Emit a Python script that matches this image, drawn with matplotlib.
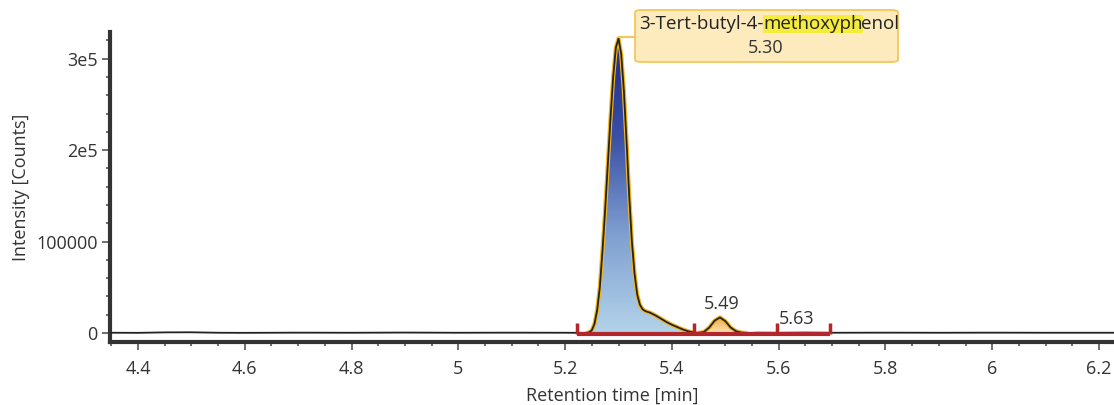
import numpy as np
import matplotlib
matplotlib.use("Agg")
import matplotlib.pyplot as plt
from matplotlib.colors import LinearSegmentedColormap
from matplotlib.patches import FancyBboxPatch, Polygon

plt.rcParams['font.family'] = ['Open Sans', 'DejaVu Sans']

# chromatogram trace (retention time [min], intensity [counts])
time = [4.35, 4.40, 4.45, 4.50, 4.55, 4.60, 4.70, 4.80, 4.90, 5.00, 5.10, 5.20, 5.23,
        5.240, 5.245, 5.250, 5.255, 5.260, 5.265, 5.270, 5.275, 5.280, 5.285, 5.290,
        5.295, 5.300, 5.305, 5.310, 5.315, 5.320, 5.325, 5.330, 5.335, 5.340, 5.345,
        5.350, 5.360, 5.370, 5.380, 5.390, 5.400, 5.410, 5.420, 5.430, 5.440, 5.450,
        5.460, 5.470, 5.480, 5.490, 5.500, 5.510, 5.520, 5.530, 5.540,
        5.56, 5.60, 5.65, 5.70, 5.80, 5.90, 6.00, 6.10, 6.23]
intensity = [300, 200, 700, 800, 300, 200, 400, 300, 500, 300, 400, 300, 200,
             0, 800, 3000, 10000, 25000, 50000, 90000, 135000, 185000, 235000, 280000,
             312000, 322000, 305000, 265000, 210000, 150000, 100000, 65000, 42000, 31000, 26000,
             24000, 22000, 19000, 15500, 12000, 9000, 6500, 4000, 2000, 700, 200,
             1200, 6000, 13500, 17000, 13000, 6000, 2000, 500, 0,
             400, 300, 500, 300, 400, 300, 400, 300, 300]

# integrated peaks
peak_rt = [5.30, 5.49, 5.63]
peak_start = [5.222, 5.442, 5.597]
peak_end = [5.442, 5.597, 5.696]
name_parts = ["3-Tert-butyl-4-", "methoxyph", "enol"]

t = np.array(time)
y = np.array(intensity)
fs = 13

fig = plt.figure(figsize=(11.14, 4.05), dpi=100)
ax = fig.add_axes([0.0987, 0.1556, 0.9013, 0.765])
ax.set_xlim(4.3475, 6.228)
ax.set_ylim(-9800, 329000)

# gradient fills of the two visible peaks
def grad_fill(t0, t1, ymax, colors):
    m = (t >= t0) & (t <= t1)
    xs = t[m]
    ys = y[m]
    verts = [(xs[0], 0)] + list(zip(xs, ys)) + [(xs[-1], 0)]
    poly = Polygon(verts, closed=True, fc='none', ec='none')
    ax.add_patch(poly)
    cmap = LinearSegmentedColormap.from_list('g', colors)
    grad = np.linspace(0, 1, 256).reshape(-1, 1)
    im = ax.imshow(grad, cmap=cmap, origin='lower', aspect='auto',
                   extent=[xs[0], xs[-1], 0, ymax], zorder=2)
    im.set_clip_path(poly)
    ax.plot(xs, ys, color='#f2b61e', lw=3.0, zorder=3, solid_capstyle='round')

grad_fill(5.24, 5.445, 322000, ['#b3d3ea', '#7f9fd0', '#3a4fa6', '#1d2a86'])
grad_fill(5.445, 5.54, 17000, ['#fde2b4', '#f2a848'])

ax.plot(t, y, color='#222222', lw=1.3, zorder=4)

# integration baselines
red = '#b3262a'
ax.plot([peak_start[0], peak_end[-1]], [-1500, -1500], color=red, lw=3, zorder=5,
        solid_capstyle='butt')
for xv in peak_start + [peak_end[-1]]:
    ax.plot([xv, xv], [-1500, 11000], color=red, lw=2.5, zorder=5, solid_capstyle='butt')

ax.text(peak_rt[1] + 0.004, 32000, "%.2f" % peak_rt[1], ha='center', va='center',
        fontsize=fs, color='#333333')
ax.text(peak_rt[2] + 0.003, 15500, "%.2f" % peak_rt[2], ha='center', va='center',
        fontsize=fs, color='#333333')

# label box for main peak
ax.plot([5.30, 5.332], [323500, 323500], color='#f5c65a', lw=1.5, zorder=6, clip_on=False)
box = FancyBboxPatch((635 / 1114, 1 - 62 / 405), 263 / 1114, 52 / 405,
                     boxstyle='round,pad=0,rounding_size=0.006', transform=fig.transFigure,
                     fc='#fdebbd', ec='#f5c65a', lw=1.3, zorder=6, clip_on=False)
ax.add_patch(box)
bfs = 13.5
t1 = ax.text(639 / 1114, 1 - 24 / 405, name_parts[0], ha='left', va='center',
             transform=fig.transFigure, fontsize=bfs, color='#222222', zorder=7)
t2 = ax.annotate(name_parts[1], xy=(1, 0), xycoords=t1, ha='left', va='bottom',
                 fontsize=bfs, color='#222222', zorder=7, annotation_clip=False,
                 bbox=dict(boxstyle='square,pad=0', fc='#f6ec3c', ec='none'))
t3 = ax.annotate(name_parts[2], xy=(1, 0), xycoords=t2, xytext=(-1.5, 0),
                 textcoords='offset points', ha='left', va='bottom',
                 fontsize=bfs, color='#222222', zorder=7, annotation_clip=False)
ax.text(766 / 1114, 1 - 48 / 405, "%.2f" % peak_rt[0], ha='center', va='center',
        transform=fig.transFigure, fontsize=fs, color='#333333', zorder=7)

# axes styling
for s in ['top', 'right']:
    ax.spines[s].set_visible(False)
for s in ['left', 'bottom']:
    ax.spines[s].set_linewidth(3)
    ax.spines[s].set_color('#333333')
ax.set_xticks([4.4, 4.6, 4.8, 5.0, 5.2, 5.4, 5.6, 5.8, 6.0, 6.2])
ax.set_xticklabels(['4.4', '4.6', '4.8', '5', '5.2', '5.4', '5.6', '5.8', '6', '6.2'])
ax.set_xticks(np.arange(4.35, 6.23, 0.05), minor=True)
ax.set_yticks([0, 100000, 200000, 300000])
ax.set_yticklabels(['0', '100000', '2e5', '3e5'])
ax.set_yticks(np.arange(0, 329000, 20000), minor=True)
ax.tick_params(which='major', length=6, width=1.2, color='#555555', labelsize=fs,
               labelcolor='#333333', pad=3)
ax.tick_params(axis='x', which='major', pad=7)
ax.tick_params(which='minor', length=3, width=1.2, color='#555555')
ax.set_xlabel("Retention time [min]", fontsize=fs, color='#333333', labelpad=6)
ax.set_ylabel("Intensity [Counts]", fontsize=fs, color='#333333', labelpad=4)

fig.savefig("out.png", dpi=100)
